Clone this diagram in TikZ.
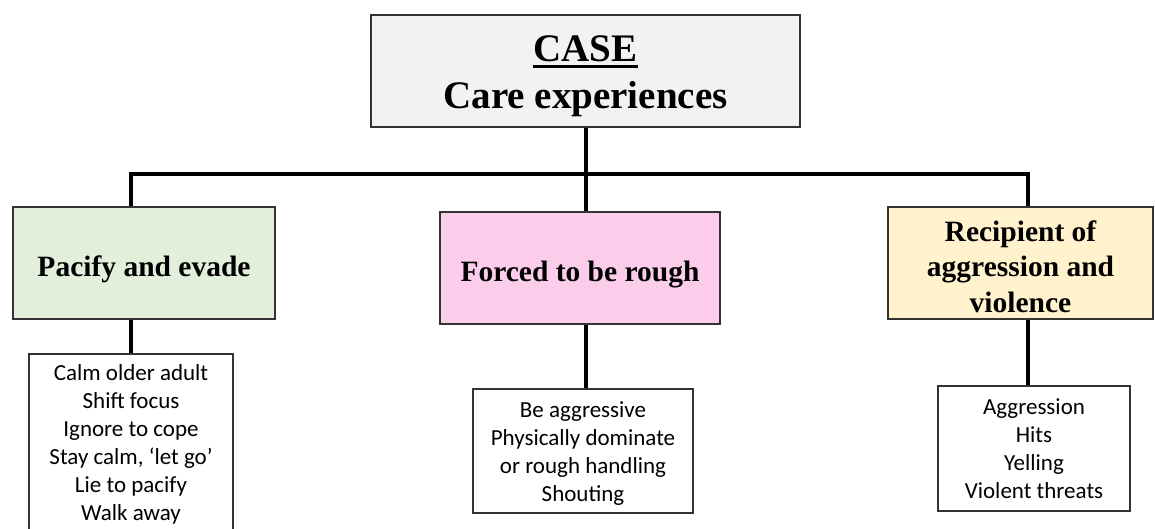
\documentclass[tikz,border=0pt]{standalone}
\usepackage{fontspec}
\setmainfont{Liberation Serif}
\newfontfamily\carlitofamily{Carlito}
\usetikzlibrary{positioning}
\definecolor{casegray}{HTML}{F2F2F2}
\definecolor{pacifygreen}{HTML}{E2EFDA}
\definecolor{forcedpink}{HTML}{FBCDEB}
\definecolor{recipientyellow}{HTML}{FFF2CC}
\newcommand\casetitlefont{\bfseries\fontsize{39}{47}\selectfont}
\newcommand\boxheadfont{\bfseries\fontsize{29.5}{35.5}\selectfont}
\newcommand\itemlistfont{\carlitofamily\fontsize{23}{28}\selectfont}
\newcommand\thickuline[1]{\setbox0\hbox{#1}\rlap{\rule[-6.5pt]{\wd0}{3pt}}\box0}
\newcommand\downby[2]{\raisebox{-#1}[\height][\depth]{#2}}

\begin{document}
\begin{tikzpicture}[x=1pt,y=1pt,line join=miter,
    headbox/.style={draw=black!80,line width=1.3pt,align=center,font=\boxheadfont,inner sep=0pt,minimum height=112pt},
    itembox/.style={draw=black!80,line width=1.3pt,fill=white,align=center,font=\itemlistfont,inner sep=0pt},
    bar/.style={line width=3.5pt}]
    \useasboundingbox (0,0) rectangle (1155,-528);
    %
    \node (case) at (585.5,-71) [headbox,fill=casegray,minimum width=429pt,font=\casetitlefont] {\downby{5pt}{\thickuline{CASE}}\\\downby{5pt}{Care experiences}};
    %
    \node (pacify) at (144,-263) [headbox,fill=pacifygreen,minimum width=262pt,text height=26pt,text depth=0pt] {Pacify and evade};
    \node (forced) at (580,-268) [headbox,fill=forcedpink,minimum width=280pt,text height=26pt,text depth=0pt] {Forced to be rough};
    \node (recipient) at (1020.5,-263) [headbox,fill=recipientyellow,minimum width=265pt] {\downby{3.5pt}{Recipient of}\\\downby{3.5pt}{aggression and}\\\downby{3.5pt}{violence}};
    %
    \node (pacifylist) at (131,-444) [itembox,minimum width=204pt,minimum height=180pt] {Calm older adult\\Shift focus\\Ignore to cope\\Stay calm, ‘let go’\\Lie to pacify\\Walk away};
    \node (forcedlist) at (583,-451) [itembox,minimum width=220pt,minimum height=124pt] {\downby{3pt}{Be aggressive}\\\downby{3pt}{Physically dominate}\\\downby{3pt}{or rough handling}\\\downby{3pt}{Shouting}};
    \node (recipientlist) at (1034,-448.5) [itembox,minimum width=192pt,minimum height=125pt] {Aggression\\Hits\\Yelling\\Violent threats};
    %
    \coordinate (bus) at (586,-174);
    \coordinate (leftstem) at (131,-174);
    \coordinate (rightstem) at (1028,-174);
    \draw [bar] (case.south -| bus) -- (forced.north -| bus);
    \draw [bar] (pacify.north -| leftstem) -- (leftstem) -- (rightstem) -- (recipient.north -| rightstem);
    \draw [bar] (pacify.south -| leftstem) -- (pacifylist.north -| leftstem);
    \draw [bar] (forced.south -| bus) -- (forcedlist.north -| bus);
    \draw [bar] (recipient.south -| rightstem) -- (recipientlist.north -| rightstem);
    %
\end{tikzpicture}
\end{document}
